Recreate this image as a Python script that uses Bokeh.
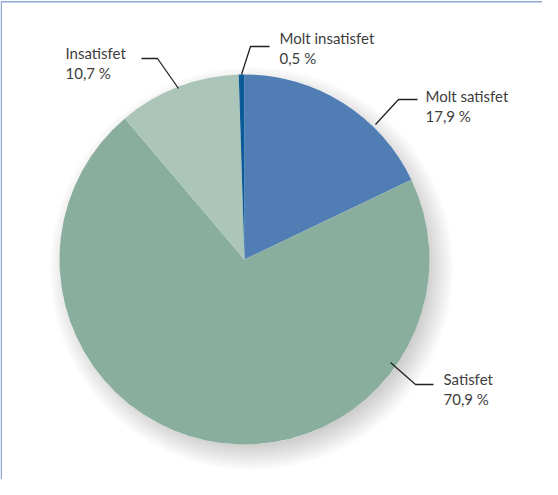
import math
from bokeh.plotting import figure
from bokeh.models import Range1d
from bokeh.core.properties import value
from bokeh.embed import file_html
from bokeh.resources import INLINE

categories = ["Molt satisfet", "Satisfet", "Insatisfet", "Molt insatisfet"]
shares = [17.9, 70.9, 10.7, 0.5]
share_labels = ["17,9 %", "70,9 %", "10,7 %", "0,5 %"]
colors = ["#517db5", "#8aae9e", "#abc5b9", "#0b5a9a"]

W, H = 542, 479

def P(px, py):
    # page pixel -> data coords
    return px - 8, (H + 8) - py

p = figure(width=W, height=H, output_backend="svg", toolbar_location=None,
           x_range=Range1d(0, W), y_range=Range1d(0, H), min_border=0)
p.axis.visible = False
p.grid.visible = False
p.outline_line_color = None
p.background_fill_color = "white"
p.border_fill_color = "white"

cx, cy = P(252, 267)
r = 185

# soft shadow (offset down-right)
for i in range(24):
    p.circle(x=cx + 7, y=cy - 9, radius=r - 8 + i * 1.1, fill_color="black",
             fill_alpha=0.008, line_color=None)
p.circle(x=cx, y=cy, radius=r, fill_color="white", line_color=None)

total = sum(shares)
starts, ends = [], []
cum = 0.0
for s in shares:
    starts.append(math.pi / 2 - 2 * math.pi * cum / total)
    cum += s
    ends.append(math.pi / 2 - 2 * math.pi * cum / total)

p.wedge(x=cx, y=cy, radius=r, start_angle=starts, end_angle=ends,
        direction="clock", fill_color=colors, line_color=None)

# frame (left and top lines)
p.line(x=[0.75, 0.75, W], y=[0, H - 1.25, H - 1.25], line_color="#8ea8d6", line_width=1.5)

# leader lines (page px)
leaders = {
    "Molt satisfet": [(383, 132), (406, 107), (425, 107)],
    "Satisfet": [(398, 370), (423, 392), (441, 392)],
    "Insatisfet": [(186, 96), (165, 66), (149, 66)],
    "Molt insatisfet": [(249, 82), (258, 54), (277, 54)],
}
label_pos = {
    "Molt satisfet": (433, 103),
    "Satisfet": (451, 386),
    "Insatisfet": (73, 60),
    "Molt insatisfet": (287, 45),
}
for cat, lab in zip(categories, share_labels):
    pts = [P(a, b) for a, b in leaders[cat]]
    p.line(x=[q[0] for q in pts], y=[q[1] for q in pts], line_color="#222222", line_width=1.3)
    tx, ty = P(*label_pos[cat])
    p.text(x=[tx, tx], y=[ty, ty - 20], text=[cat, lab], text_font=value("Lato"),
           text_font_size="15px", text_color="#3d3d3d", text_baseline="middle",
           text_align="left")

open("out.html", "w").write(file_html(p, INLINE))
